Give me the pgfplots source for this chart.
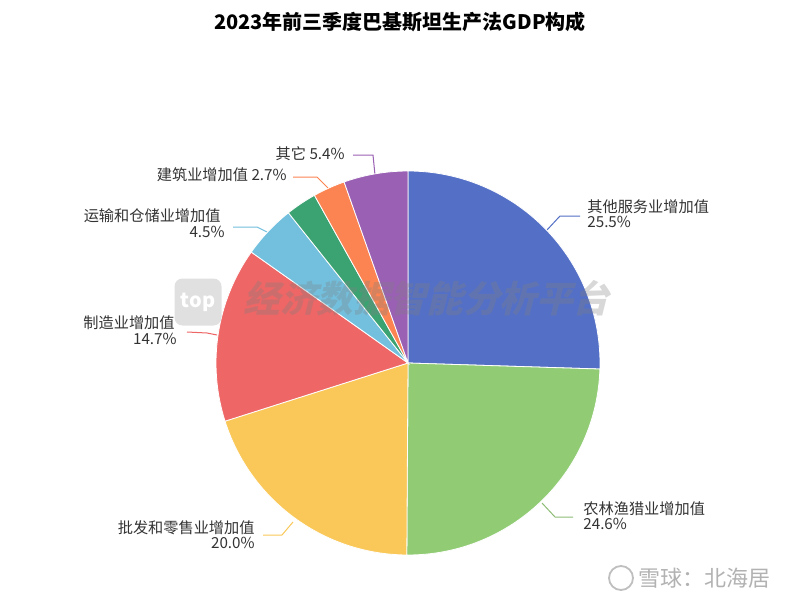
\documentclass[border=0pt]{standalone}
\usepackage{fontspec}
\setmainfont{Noto Sans CJK SC}
\usepackage{pgfplots}
\usepackage{pgfplotstable}
\pgfplotsset{compat=1.18}

\definecolor{c0}{HTML}{5470C6}
\definecolor{c1}{HTML}{91CC75}
\definecolor{c2}{HTML}{FAC858}
\definecolor{c3}{HTML}{EE6666}
\definecolor{c4}{HTML}{73C0DE}
\definecolor{c5}{HTML}{3BA272}
\definecolor{c6}{HTML}{FC8452}
\definecolor{c7}{HTML}{9A60B4}
\definecolor{txt}{HTML}{333333}

% share of GDP, clockwise from 12 o'clock
\pgfplotstableread{
idx value
0 25.5
1 24.6
2 20.0
3 14.7
4 4.5
5 2.6
6 2.7
7 5.4
}\piedata
\pgfplotstablecreatecol[expr accum={\pgfmathaccuma + \thisrow{value}}{0}]{cum}\piedata

\begin{document}
\begin{tikzpicture}[lbl/.style={inner sep=0pt, text=txt, font=\fontsize{7.6}{7.6}\selectfont}]
\begin{axis}[
    set layers,
    scale only axis, width=400pt, height=303.5pt,
    xmin=0, xmax=800, ymin=0, ymax=607,
    hide axis, clip=false,
  ]
  \begin{pgfonlayer}{axis background}
    \fill[white] (rel axis cs:0,0) rectangle (rel axis cs:1,1);
  \end{pgfonlayer}

  % pie wedges, one marker per row at the pie centre
  \addplot[scatter, only marks, mark=text, text mark={},
    visualization depends on={\thisrow{idx} \as \idx},
    visualization depends on={\thisrow{value} \as \val},
    visualization depends on={\thisrow{cum} \as \cum},
    scatter/@pre marker code/.code={%
      \pgfmathtruncatemacro\k{round(\idx)}%
      \pgfmathsetmacro\sa{90-3.6*(\cum-\val)}%
      \pgfmathsetmacro\ea{90-3.6*\cum}%
      \fill[fill=c\k, draw=white, line width=0.4pt]
        (0,0) -- (\sa:96pt) arc[start angle=\sa, end angle=\ea, radius=96pt] -- cycle;
    },
    scatter/@post marker code/.code={},
  ] table[x expr=408, y expr=244] {\piedata};

  % leader lines
  \addplot[c0, no marks, line width=0.5pt] coordinates {(547,377) (560,391) (580,391)};
  \addplot[c1!80!gray, no marks, line width=0.5pt] coordinates {(542,104) (555,90) (573,90)};
  \addplot[c2, no marks, line width=0.5pt] coordinates {(293,85) (282,72) (263,72)};
  \addplot[c3, no marks, line width=0.5pt] coordinates {(217,272) (207,274) (187,275)};
  \addplot[c4, no marks, line width=0.5pt] coordinates {(267,375) (257,380) (233,380)};
  \addplot[c6, no marks, line width=0.5pt] coordinates {(328,419) (317,430) (293,430)};
  \addplot[c7, no marks, line width=0.5pt] coordinates {(375,432) (373,452) (353,452)};

  % labels
  \node[lbl, anchor=west] at (axis cs:587,400.5) {其他服务业增加值};
  \node[lbl, anchor=west] at (axis cs:587,385) {25.5\%};
  \node[lbl, anchor=west] at (axis cs:583,98) {农林渔猎业增加值};
  \node[lbl, anchor=west] at (axis cs:583,83) {24.6\%};
  \node[lbl, anchor=east] at (axis cs:255,79) {批发和零售业增加值};
  \node[lbl, anchor=east] at (axis cs:255,64) {20.0\%};
  \node[lbl, anchor=east] at (axis cs:175,284) {制造业增加值};
  \node[lbl, anchor=east] at (axis cs:177,268) {14.7\%};
  \node[lbl, anchor=east] at (axis cs:221,391) {运输和仓储业增加值};
  \node[lbl, anchor=east] at (axis cs:225,375) {4.5\%};
  \node[lbl, anchor=east] at (axis cs:287,432) {建筑业增加值 2.7\%};
  \node[lbl, anchor=east] at (axis cs:345,453) {其它 5.4\%};

  % title
  \node[inner sep=0pt, font=\bfseries\fontsize{10}{10}\selectfont] at (axis cs:400,585)
    {2023年前三季度巴基斯坦生产法GDP构成};

  % watermarks
  \begin{pgfonlayer}{axis foreground}
  \node[fill=gray!30, rounded corners=4pt, minimum size=23.5pt, inner sep=0pt,
        text=white, font=\bfseries\fontsize{10}{10}\selectfont, opacity=0.8, text opacity=1]
    at (axis cs:198,305) {top};
  \node[inner sep=0pt, xslant=0.25, text=gray, text opacity=0.3,
        font=\bfseries\fontsize{18.3}{18.3}\selectfont] at (axis cs:430,309)
    {经济数据智能分析平台};
  \draw[gray!50, line width=0.9pt] (axis cs:621,29) circle[radius=6pt];
  \node[inner sep=0pt, anchor=west, text=gray!60, font=\fontsize{11}{11}\selectfont]
    at (axis cs:638,29) {雪球：北海居};
  \end{pgfonlayer}
\end{axis}
\end{tikzpicture}
\end{document}
